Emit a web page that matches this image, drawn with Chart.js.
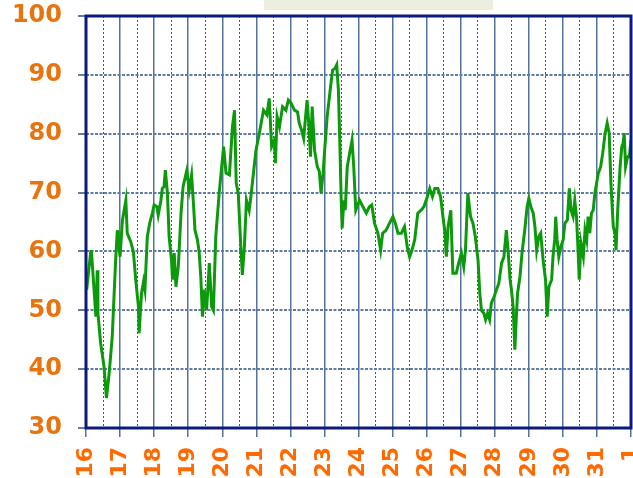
<!DOCTYPE html>
<html>
<head>
<meta charset="utf-8">
<script src="https://cdn.jsdelivr.net/npm/chart.js@4/dist/chart.umd.min.js"></script>
<style>
  html, body { margin: 0; padding: 0; background: #ffffff; }
  #wrap { width: 633px; height: 478px; }
</style>
</head>
<body>
<div id="wrap"><canvas id="reading" width="633" height="478"></canvas></div>
<script>
// day labels under the axis (one per day, the last is the 1st of next month)
const dayLabels = ['16', '17', '18', '19', '20', '21', '22', '23', '24', '25', '26', '27', '28', '29', '30', '31', '1'];
const yTicks = [30, 40, 50, 60, 70, 80, 90, 100];

// time in days since the 16th
const days = [
  0.02, 0.14, 0.16, 0.29, 0.33, 0.35, 0.43, 0.53, 0.60, 0.68, 0.77, 0.87, 0.92, 1.00, 1.07, 1.17,
  1.21, 1.31, 1.39, 1.46, 1.54, 1.56, 1.63, 1.69, 1.73, 1.80, 1.87, 1.95, 2.00, 2.08, 2.12, 2.20,
  2.24, 2.29, 2.33, 2.39, 2.44, 2.51, 2.54, 2.59, 2.64, 2.71, 2.79, 2.85, 2.96, 3.03, 3.10, 3.16,
  3.20, 3.27, 3.32, 3.37, 3.42, 3.47, 3.54, 3.62, 3.69, 3.74, 3.81, 3.91, 4.04, 4.11, 4.21, 4.30,
  4.36, 4.41, 4.47, 4.55, 4.59, 4.65, 4.71, 4.79, 4.84, 4.99, 5.09, 5.21, 5.31, 5.38, 5.45, 5.53,
  5.56, 5.61, 5.68, 5.77, 5.87, 5.94, 6.02, 6.12, 6.21, 6.26, 6.33, 6.39, 6.43, 6.49, 6.54, 6.59,
  6.64, 6.71, 6.79, 6.85, 6.90, 6.96, 7.00, 7.08, 7.18, 7.24, 7.31, 7.36, 7.41, 7.45, 7.49, 7.52,
  7.57, 7.61, 7.67, 7.74, 7.81, 7.86, 7.92, 8.03, 8.13, 8.23, 8.32, 8.39, 8.47, 8.57, 8.65, 8.71,
  8.81, 8.91, 9.01, 9.08, 9.16, 9.26, 9.35, 9.43, 9.50, 9.57, 9.65, 9.74, 9.84, 9.92, 10.02, 10.09,
  10.17, 10.24, 10.33, 10.41, 10.48, 10.53, 10.58, 10.63, 10.71, 10.77, 10.87, 10.94, 11.02, 11.09, 11.14, 11.21,
  11.29, 11.36, 11.43, 11.51, 11.56, 11.61, 11.68, 11.73, 11.79, 11.85, 11.90, 11.98, 12.05, 12.12, 12.20, 12.27,
  12.34, 12.39, 12.45, 12.49, 12.54, 12.59, 12.63, 12.67, 12.74, 12.80, 12.88, 12.95, 13.00, 13.06, 13.13, 13.18,
  13.23, 13.29, 13.35, 13.42, 13.49, 13.54, 13.59, 13.67, 13.71, 13.76, 13.79, 13.83, 13.88, 13.94, 14.01, 14.06,
  14.13, 14.19, 14.24, 14.30, 14.35, 14.40, 14.45, 14.48, 14.53, 14.60, 14.65, 14.70, 14.74, 14.79, 14.84, 14.89,
  14.94, 15.04, 15.11, 15.17, 15.24, 15.30, 15.36, 15.41, 15.48, 15.53, 15.56, 15.61, 15.68, 15.73, 15.77, 15.80,
  15.84, 15.90, 15.95, 16.00
];

const readings = [
  53.5, 60.0, 60.0, 48.9, 56.8, 49.5, 44.4, 40.4, 35.1, 39.3, 45.5, 58.5, 63.6, 59.1, 65.3, 68.7,
  63.1, 61.7, 60.0, 55.2, 50.6, 46.1, 52.9, 54.9, 53.5, 62.5, 64.8, 66.5, 67.9, 67.6, 66.2, 68.7,
  70.7, 71.0, 73.8, 69.9, 62.5, 58.5, 55.2, 59.7, 54.0, 57.4, 66.5, 71.0, 73.8, 70.4, 73.0, 67.6,
  63.6, 62.0, 60.0, 55.7, 48.9, 53.5, 50.0, 58.0, 50.6, 50.0, 62.5, 69.9, 77.8, 73.3, 73.0, 81.2,
  84.0, 71.6, 69.9, 60.2, 56.0, 60.8, 68.7, 67.0, 69.3, 77.2, 80.1, 84.0, 83.2, 86.0, 77.8, 78.9,
  75.0, 82.9, 81.2, 84.6, 84.0, 85.7, 85.2, 84.0, 83.7, 81.8, 80.6, 79.2, 81.8, 85.7, 81.8, 76.1,
  84.6, 77.2, 74.4, 73.6, 69.9, 73.3, 76.7, 82.9, 88.0, 90.8, 91.1, 91.7, 87.4, 78.9, 69.3, 63.9,
  68.7, 67.0, 74.4, 76.7, 78.9, 74.4, 67.0, 68.7, 67.6, 66.5, 67.6, 67.9, 64.8, 63.1, 60.2, 63.1,
  63.6, 64.8, 65.9, 64.8, 63.1, 63.1, 64.2, 60.8, 59.1, 60.2, 62.0, 66.5, 67.0, 67.6, 69.3, 70.7,
  69.3, 70.7, 70.7, 69.3, 65.9, 63.6, 59.1, 64.2, 67.0, 56.3, 56.3, 58.0, 59.7, 57.4, 60.2, 69.9,
  65.9, 64.8, 62.5, 58.5, 52.9, 50.0, 49.5, 48.4, 49.5, 48.4, 51.2, 52.3, 53.5, 54.6, 58.0, 59.1,
  63.6, 60.2, 55.2, 53.5, 50.6, 43.3, 48.4, 52.9, 55.7, 59.7, 63.6, 67.6, 69.0, 67.6, 66.5, 64.2,
  60.2, 62.5, 63.1, 58.5, 55.2, 48.9, 54.0, 55.2, 59.1, 62.0, 65.9, 62.0, 59.1, 60.8, 62.0, 64.8,
  65.3, 70.7, 67.0, 65.9, 68.7, 65.9, 59.7, 55.2, 61.4, 59.1, 63.6, 62.0, 65.9, 63.1, 66.5, 67.0,
  69.9, 73.3, 74.4, 76.7, 80.1, 81.8, 80.1, 71.6, 64.2, 63.1, 60.2, 67.0, 74.4, 77.8, 78.4, 80.1,
  74.4, 76.1, 76.1, 78.9
];

const isWholeDay = (ctx) => ctx.tick && Number.isInteger(ctx.tick.value);

// navy frame round the plot and the pale box of the cut-off title
const framePlugin = {
  id: 'frame',
  beforeDraw(chart) {
    const c = chart.ctx;
    c.save();
    c.fillStyle = '#eceee0';
    c.fillRect(264, 0, 229, 10);
    c.restore();
  },
  afterDraw(chart) {
    const { left, top, right, bottom } = chart.chartArea;
    const c = chart.ctx;
    c.save();
    c.strokeStyle = '#0b1a7e';
    c.lineWidth = 3;
    c.strokeRect(left, top, right - left, bottom - top);
    c.restore();
  }
};

const ctx = document.getElementById('reading').getContext('2d');

new Chart(ctx, {
  type: 'line',
  data: {
    datasets: [
      {
        data: days.map((d, i) => ({ x: d, y: readings[i] })),
        borderColor: '#0c9a0c',
        backgroundColor: '#0c9a0c',
        borderWidth: 3,
        pointRadius: 0,
        tension: 0,
        fill: false
      }
    ]
  },
  options: {
    responsive: false,
    animation: false,
    layout: {
      padding: { top: 16, right: 2, left: 0, bottom: 0 }
    },
    scales: {
      x: {
        type: 'linear',
        min: 0,
        max: 16,
        afterFit: (scale) => {
          scale.height = 50;
          scale.paddingLeft = 0;
          scale.paddingRight = 0;
        },
        ticks: {
          stepSize: 0.5,
          autoSkip: false,
          minRotation: 90,
          maxRotation: 90,
          padding: 10,
          color: '#ff6a00',
          font: { family: 'DejaVu Sans', size: 22, weight: 'bold' },
          callback: (value) => Number.isInteger(value) ? dayLabels[value] : ''
        },
        grid: {
          color: (ctx) => isWholeDay(ctx) ? '#52739c' : '#4848a8',
          lineWidth: (ctx) => isWholeDay(ctx) ? 1.5 : 1,
          tickColor: (ctx) => isWholeDay(ctx) ? '#52739c' : 'rgba(0,0,0,0)',
          tickLength: 9
        },
        border: {
          display: false,
          dash: (ctx) => (ctx.tick && !Number.isInteger(ctx.tick.value)) ? [2, 2] : []
        }
      },
      y: {
        min: 30,
        max: 100,
        afterFit: (scale) => {
          scale.width = 86;
          scale.paddingTop = 0;
          scale.paddingBottom = 0;
        },
        afterBuildTicks: (scale) => { scale.ticks = yTicks.map((v) => ({ value: v })); },
        ticks: {
          padding: 16,
          color: '#e8740f',
          font: { family: 'DejaVu Sans', size: 24, weight: 'bold' }
        },
        grid: {
          color: '#5f7ca2',
          lineWidth: 2,
          tickColor: '#5f7ca2',
          tickLength: 8
        },
        border: {
          display: false,
          dash: (ctx) => ctx.tick ? [3, 1.5] : []
        }
      }
    },
    plugins: {
      legend: { display: false },
      title: { display: false },
      tooltip: { enabled: false }
    }
  },
  plugins: [framePlugin]
});
</script>
</body>
</html>
